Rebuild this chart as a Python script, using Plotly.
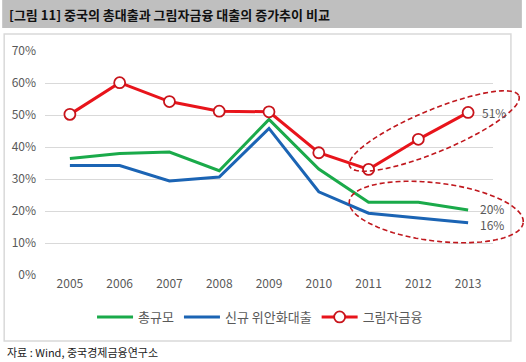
import numpy as np
import plotly.graph_objects as go

years = [2005, 2006, 2007, 2008, 2009, 2010, 2011, 2012, 2013]
total = [36.4, 38.0, 38.4, 32.6, 48.6, 33.1, 22.7, 22.7, 20.3]
new_rmb = [34.2, 34.2, 29.4, 30.6, 45.8, 26.0, 19.3, 17.9, 16.3]
shadow = [50.2, 60.1, 54.2, 51.2, 51.0, 38.2, 33.0, 42.4, 50.8]
names = ["총규모", "신규 위안화대출", "그림자금융"]
yticks = [0, 10, 20, 30, 40, 50, 60, 70]

W, H = 526, 362
L, R, T, B = 43, 33, 51, 87
PW, PH = W - L - R, H - T - B

FONT = "Malgun Gothic, Noto Sans CJK KR, sans-serif"
GRAY = "#595959"

fig = go.Figure()
fig.add_trace(go.Scatter(x=years, y=total, name=names[0], mode="lines",
                         line=dict(color="#1AAA4A", width=3)))
fig.add_trace(go.Scatter(x=years, y=new_rmb, name=names[1], mode="lines",
                         line=dict(color="#1B64B4", width=3)))
fig.add_trace(go.Scatter(x=years, y=shadow, name=names[2], mode="lines+markers",
                         line=dict(color="#E8141B", width=3),
                         marker=dict(symbol="circle", size=11, color="white",
                                     line=dict(color="#C8141B", width=1.8))))


def px2paper(px, py):
    return (px - L) / PW, (H - B - py) / PH


def ellipse_path(cx, cy, a, b, ang_deg, n=90):
    t = np.linspace(0, 2 * np.pi, n)
    ang = np.deg2rad(ang_deg)
    xs = cx + a * np.cos(t) * np.cos(ang) - b * np.sin(t) * np.sin(ang)
    ys = cy + a * np.cos(t) * np.sin(ang) + b * np.sin(t) * np.cos(ang)
    pts = [px2paper(x, y) for x, y in zip(xs, ys)]
    return "M " + " L ".join(f"{x:.4f},{y:.4f}" for x, y in pts) + " Z"


shapes = [
    dict(type="rect", xref="paper", yref="paper",
         x0=px2paper(0, 0)[0], x1=px2paper(522, 0)[0],
         y0=px2paper(0, 0)[1], y1=px2paper(0, 28)[1],
         fillcolor="#BFBFBF", line=dict(width=0), layer="below"),
    dict(type="rect", xref="paper", yref="paper",
         x0=px2paper(2, 0)[0], x1=px2paper(511, 0)[0],
         y0=px2paper(0, 34)[1], y1=px2paper(0, 341)[1],
         fillcolor="rgba(0,0,0,0)", line=dict(color="#D9D9D9", width=1.5), layer="below"),
    dict(type="path", xref="paper", yref="paper",
         path=ellipse_path(434, 131, 92, 21, -22.5),
         line=dict(color="#C0181E", width=1.6, dash="5px,3px")),
    dict(type="path", xref="paper", yref="paper",
         path=ellipse_path(436, 212, 88, 29, 7),
         line=dict(color="#C0181E", width=1.6, dash="5px,3px")),
]

annotations = [
    dict(text="<b>[그림 11] 중국의 총대출과 그림자금융 대출의 증가추이 비교</b>", xref="paper", yref="paper",
         x=px2paper(5, 0)[0], y=px2paper(0, 14)[1], xanchor="left", yanchor="middle",
         showarrow=False, font=dict(family=FONT, size=13, color="#111111")),
    dict(text="자료 : Wind, 중국경제금융연구소", xref="paper", yref="paper",
         x=px2paper(3, 0)[0], y=px2paper(0, 352)[1], xanchor="left", yanchor="middle",
         showarrow=False, font=dict(family=FONT, size=11, color="#222222")),
    dict(text=f"{shadow[-1]:.0f}%", x=years[-1], y=shadow[-1], xshift=12, xanchor="left",
         yanchor="middle", showarrow=False, font=dict(family=FONT, size=12, color=GRAY)),
    dict(text=f"{total[-1]:.0f}%", x=years[-1], y=total[-1], xshift=10, yshift=2, xanchor="left",
         yanchor="middle", showarrow=False, font=dict(family=FONT, size=12, color=GRAY)),
    dict(text=f"{new_rmb[-1]:.0f}%", x=years[-1], y=new_rmb[-1], xshift=10, yshift=-2, xanchor="left",
         yanchor="middle", showarrow=False, font=dict(family=FONT, size=12, color=GRAY)),
]

fig.update_layout(
    width=W, height=H,
    margin=dict(l=L, r=R, t=T, b=B),
    paper_bgcolor="white", plot_bgcolor="white",
    font=dict(family=FONT, size=12, color=GRAY),
    showlegend=True,
    legend=dict(orientation="h", x=0.48, xanchor="center", y=px2paper(0, 317)[1], yanchor="middle",
                font=dict(family=FONT, size=13, color=GRAY), itemwidth=36, tracegroupgap=0),
    shapes=shapes, annotations=annotations,
    xaxis=dict(range=[2004.5, 2013.5], tickvals=years, ticktext=[str(y) for y in years],
               showgrid=False, zeroline=False, showline=False, ticks="",
               tickfont=dict(size=12, color=GRAY)),
    yaxis=dict(range=[0, 70], tickvals=yticks, ticktext=[f"{v}%" for v in yticks],
               showgrid=True, gridcolor="#D9D9D9", gridwidth=1, zeroline=False,
               showline=False, ticks="", ticklabelstandoff=8,
               tickfont=dict(size=12, color=GRAY)),
)

fig.write_html("out.html", config={"displayModeBar": False})

# remove the browser's default body margin so the figure sits at the page origin
with open("out.html", "r", encoding="utf-8") as f:
    html = f.read()
html = html.replace("<head>", "<head><style>html,body{margin:0;padding:0;overflow:hidden;}</style>", 1)
with open("out.html", "w", encoding="utf-8") as f:
    f.write(html)
